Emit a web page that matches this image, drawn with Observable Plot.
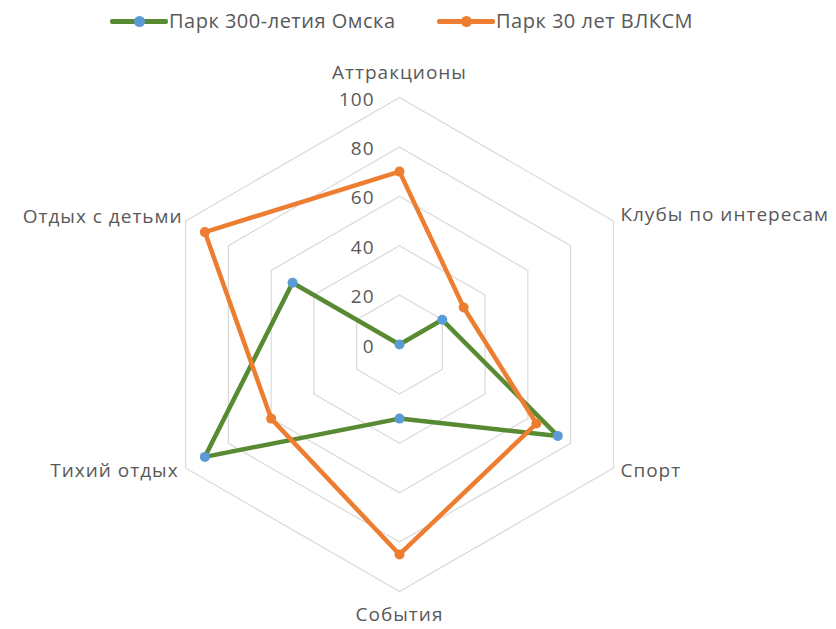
<!DOCTYPE html>
<html><head><meta charset="utf-8">
<script src="https://cdn.jsdelivr.net/npm/d3@7"></script>
<script src="https://cdn.jsdelivr.net/npm/@observablehq/plot@0.6"></script>
<style>
body{margin:0;background:#fff;font-family:"Open Sans",sans-serif;}
#legend{position:relative;height:40px;width:836px;}
.sw{position:absolute;top:19px;height:5px;border-radius:2px;}
.mk{position:absolute;top:16px;width:11px;height:11px;border-radius:50%;}
.lt{position:absolute;top:7px;font-size:20px;letter-spacing:0.5px;color:#595959;white-space:nowrap;line-height:28px;}
</style></head><body>
<div id="legend"></div>
<div id="chart"></div>
<script>
const categories = ["Аттракционы","Клубы по интересам","Спорт","События","Тихий отдых","Отдых с детьми"];
const seriesNames = ["Парк 300-летия Омска","Парк 30 лет ВЛКСМ"];
const omsk300 = [0,20,74,30,91,50];
const vlksm30 = [70,30,64,85,60,91];
const tickValues = [0,20,40,60,80,100];

const lineColors = ["#588a33","#ED7D31"];
const markerColors = ["#5B9BD5","#ED7D31"];
const seriesValues = [omsk300, vlksm30];

const W = 836, H = 589, cx = 399, cy = 304, k = 2.47;
const n = categories.length;
const ang = i => i * 2 * Math.PI / n;
const px = (r, i) => r * Math.sin(ang(i));
const py = (r, i) => r * Math.cos(ang(i));

const rings = tickValues.filter(t => t > 0).flatMap(t =>
  d3.range(n + 1).map(i => ({ring: t, x: px(t, i % n), y: py(t, i % n)})));

const seriesPts = seriesNames.map((s, si) =>
  d3.range(n + 1).map(i => ({series: s, x: px(seriesValues[si][i % n], i % n), y: py(seriesValues[si][i % n], i % n)})));
const seriesDots = seriesNames.map((s, si) =>
  seriesValues[si].map((v, i) => ({series: s, x: px(v, i), y: py(v, i)})));

const labels = categories.map((c, i) => ({c, i, x: px(100, i), y: py(100, i)}));
const txt = {fontSize: 19, fill: "#595959", fontFamily: "Open Sans"};

const marks = [
  Plot.line(rings, {x: "x", y: "y", z: "ring", stroke: "#d9d9d9", strokeWidth: 1.2})
];
seriesNames.forEach((s, si) => {
  marks.push(Plot.line(seriesPts[si], {x: "x", y: "y", stroke: lineColors[si], strokeWidth: 4.5, strokeLinejoin: "round"}));
  marks.push(Plot.dot(seriesDots[si], {x: "x", y: "y", r: 5, fill: markerColors[si], stroke: "none"}));
});
marks.push(
  Plot.text(tickValues, {x: () => 0, y: d => d, text: d => String(d), textAnchor: "end", dx: -25, dy: 2, ...txt}),
  Plot.text(labels.filter(d => d.i === 0), {x: "x", y: "y", text: "c", dy: -25, ...txt}),
  Plot.text(labels.filter(d => d.i === 3), {x: "x", y: "y", text: "c", dy: 23, ...txt}),
  Plot.text(labels.filter(d => d.i === 1), {x: "x", y: "y", text: "c", textAnchor: "start", dx: 7, dy: -6, ...txt}),
  Plot.text(labels.filter(d => d.i === 2), {x: "x", y: "y", text: "c", textAnchor: "start", dx: 7, dy: 3, ...txt}),
  Plot.text(labels.filter(d => d.i === 4), {x: "x", y: "y", text: "c", textAnchor: "end", dx: -7, dy: 3, ...txt}),
  Plot.text(labels.filter(d => d.i === 5), {x: "x", y: "y", text: "c", textAnchor: "end", dx: -3, dy: -4, ...txt})
);

const chart = Plot.plot({
  width: W, height: H, margin: 0,
  x: {domain: [-cx / k, (W - cx) / k], axis: null},
  y: {domain: [-(H - cy) / k, cy / k], axis: null},
  style: {background: "white", overflow: "visible"},
  marks
});
chart.querySelectorAll("text").forEach(t => t.style.letterSpacing = "1px");
document.getElementById("chart").appendChild(chart);

// legend
const legend = document.getElementById("legend");
const legendPos = [{x: 110, w: 58}, {x: 437, w: 58}];
seriesNames.forEach((s, si) => {
  const p = legendPos[si];
  const sw = document.createElement("div");
  sw.className = "sw"; sw.style.left = p.x + "px"; sw.style.width = p.w + "px"; sw.style.background = lineColors[si];
  const mk = document.createElement("div");
  mk.className = "mk"; mk.style.left = (p.x + p.w / 2 - 5.5) + "px"; mk.style.background = markerColors[si];
  const lt = document.createElement("div");
  lt.className = "lt"; lt.style.left = (p.x + p.w + 1) + "px"; lt.textContent = s;
  legend.append(sw, mk, lt);
});
</script>
</body></html>
